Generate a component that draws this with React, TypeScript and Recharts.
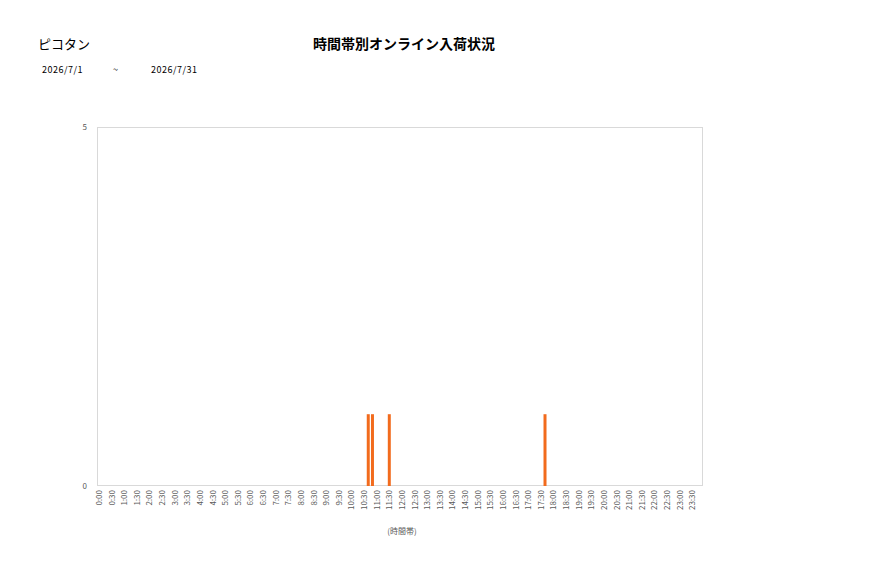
import { Bar, BarChart, XAxis, YAxis } from 'recharts'

// 10-minute slots over the day, ticks shown every 30 minutes
const hours = Array.from({ length: 24 }, (_, h) => h)
const minutes = ['00', '10', '20', '30', '40', '50']
const slots = hours.flatMap((h) => minutes.map((m) => `${h}:${m}`))

// slots that had arrivals (all others are 0)
const arrivalSlots = ['10:40', '10:50', '11:30', '17:40']
const arrivalCounts = [1, 1, 1, 1]

const yTicks = [0, 5]

const data = slots.map((slot) => {
  const i = arrivalSlots.indexOf(slot)
  return { slot, count: i >= 0 ? arrivalCounts[i] : 0 }
})

const font = '"Noto Sans CJK JP", "Noto Sans", sans-serif'

function TimeTick({ x, y, payload }: any) {
  return (
    <text
      x={x}
      y={y}
      transform={`rotate(-90 ${x} ${y})`}
      textAnchor="end"
      dy="0.35em"
      fontSize={8}
      fill="#595959"
      fontFamily={font}
    >
      {payload.value}
    </text>
  )
}

export default function App() {
  return (
    <div style={{ position: 'absolute', left: 0, top: 0, width: 877, height: 578, background: '#fff', fontFamily: font }}>
      <div style={{ position: 'absolute', left: 38, top: 34, fontSize: 13, color: '#000' }}>ピコタン</div>
      <div style={{ position: 'absolute', left: 0, width: 808, top: 33, textAlign: 'center', fontSize: 14, fontWeight: 'bold', color: '#000' }}>
        時間帯別オンライン入荷状況
      </div>
      <div style={{ position: 'absolute', left: 42, top: 63, fontSize: 9, letterSpacing: 0.5, color: '#000' }}>2026/7/1</div>
      <div style={{ position: 'absolute', left: 113, top: 63, fontSize: 9, color: '#000' }}>~</div>
      <div style={{ position: 'absolute', left: 151, top: 63, fontSize: 9, letterSpacing: 0.5, color: '#000' }}>2026/7/31</div>
      <div style={{ position: 'absolute', left: 0, width: 804, top: 525, textAlign: 'center', fontSize: 8, color: '#595959' }}>(時間帯)</div>
      <div style={{ position: 'absolute', left: 97, top: 127, width: 606, height: 359, border: '1px solid #d9d9d9', boxSizing: 'border-box' }} />
      <div style={{ position: 'absolute', left: 0, top: 0 }}>
        <BarChart
          width={877}
          height={578}
          data={data}
          margin={{ top: 127, right: 174, bottom: 52, left: 77 }}
          barCategoryGap="10%"
        >
          <XAxis
            dataKey="slot"
            interval={2}
            axisLine={false}
            tickLine={false}
            tickSize={0}
            tickMargin={4}
            height={40}
            tick={<TimeTick />}
          />
          <YAxis
            domain={[0, 5]}
            ticks={yTicks}
            width={20}
            axisLine={false}
            tickLine={false}
            tickSize={0}
            tickMargin={10}
            tick={{ fontSize: 8, fill: '#595959', fontFamily: font }}
          />
          <Bar dataKey="count" fill="#F26B1D" isAnimationActive={false} />
        </BarChart>
      </div>
    </div>
  )
}
